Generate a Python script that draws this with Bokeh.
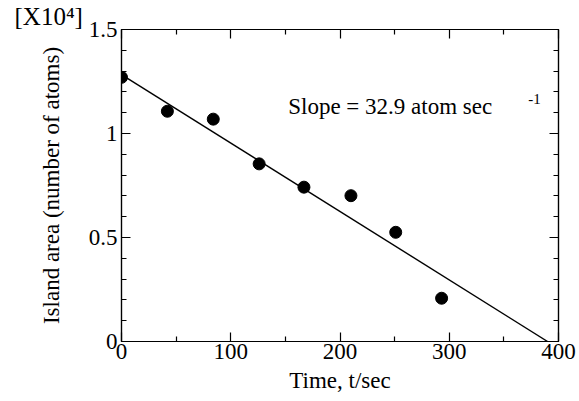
from bokeh.plotting import figure
from bokeh.models import FixedTicker, LinearAxis, Title, Range1d, NumeralTickFormatter
from bokeh.core.properties import value
from bokeh.embed import file_html
from bokeh.resources import INLINE

# Data (island area in units of 10^4 atoms)
time_s = [0, 42, 84, 126, 167, 210, 251, 293]
area = [1.27, 1.107, 1.069, 0.854, 0.742, 0.701, 0.525, 0.208]

# fitted line (slope = 32.9 atom/sec)
fit_t = [0, 390]
fit_area = [1.283, 0.0]

x_major = [0, 100, 200, 300, 400]
x_minor = [50, 150, 250, 350]
y_major = [0, 0.5, 1.0, 1.5]
y_minor = [0.1, 0.2, 0.3, 0.4, 0.6, 0.7, 0.8, 0.9, 1.1, 1.2, 1.3, 1.4]

FONT = "Liberation Serif"

p = figure(width=579, height=401, x_range=Range1d(0, 400), y_range=Range1d(0, 1.5),
           output_backend="svg", toolbar_location=None,
           min_border_left=121, min_border_top=25, min_border_right=21, min_border_bottom=60)
p.grid.visible = False
p.outline_line_color = "black"
p.outline_line_width = 1.2
p.background_fill_color = "white"
p.border_fill_color = "white"

p.add_layout(LinearAxis(), "above")
p.add_layout(LinearAxis(), "right")

for ax in p.xaxis:
    ax.ticker = FixedTicker(ticks=x_major, minor_ticks=x_minor)
for ax in p.yaxis:
    ax.ticker = FixedTicker(ticks=y_major, minor_ticks=y_minor)
    ax.formatter = NumeralTickFormatter(format="0.[0]")

for ax in p.xaxis + p.yaxis:
    ax.axis_line_color = "black"
    ax.axis_line_width = 1.2
    ax.major_tick_in = 9
    ax.major_tick_out = 0
    ax.minor_tick_in = 5
    ax.minor_tick_out = 0
    ax.major_tick_line_color = "black"
    ax.minor_tick_line_color = "black"
    ax.major_tick_line_width = 1.2
    ax.minor_tick_line_width = 1.2
    ax.major_label_text_font = FONT
    ax.major_label_text_font_size = "23px"
    ax.major_label_text_color = "black"
    ax.axis_label_text_font = FONT
    ax.axis_label_text_font_size = "23px"
    ax.axis_label_text_font_style = "normal"
    ax.axis_label_text_color = "black"

# mirrored axes: ticks only, no labels
p.above[0].major_label_overrides = {t: "" for t in x_major}
p.right[0].major_label_overrides = {t: "" for t in y_major}
for ax in [p.above[0], p.right[0]]:
    ax.major_label_standoff = 0
    ax.major_label_text_font_size = "1px"

bx = p.below[0]
bx.axis_label = "Time, t/sec"
bx.major_label_standoff = 2
bx.axis_label_standoff = 6

ly = p.left[0]
ly.axis_label = "Island area (number of atoms)"
ly.major_label_standoff = 4
ly.axis_label_standoff = 22

p.line(fit_t, fit_area, line_color="black", line_width=1.4)
p.scatter(time_s, area, size=12, marker="circle", fill_color="black", line_color="black")

# annotation inside the plot
p.text(x=[152.6], y=[1.128], text=["Slope = 32.9 atom sec"], text_font=value(FONT),
       text_font_size="23px", text_baseline="alphabetic", text_align="left",
       text_color="black")
p.text(x=[372.4], y=[1.168], text=["-1"], text_font=value(FONT),
       text_font_size="15px", text_baseline="alphabetic", text_align="left",
       text_color="black")

# multiplier label at the top-left, outside the frame
mult = Title(text="[X10\u2074]", align="left", offset=-107, standoff=0,
             text_font=FONT, text_font_size="25px", text_font_style="normal",
             text_color="black", text_line_height=0.8)
p.add_layout(mult, "above")

open("out.html", "w").write(file_html(p, INLINE))
